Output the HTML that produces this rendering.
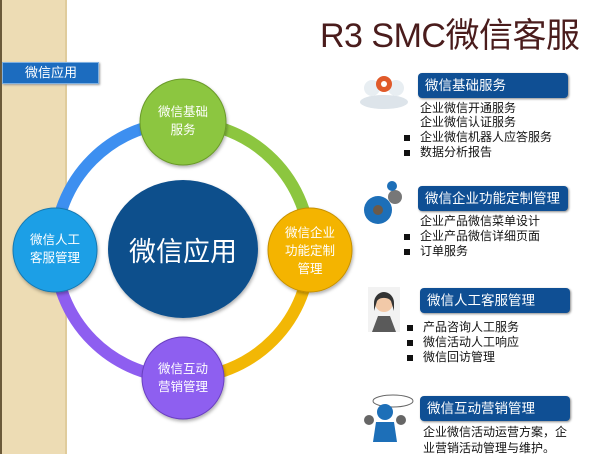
<!DOCTYPE html>
<html><head><meta charset="utf-8">
<style>
html,body{margin:0;padding:0;}
body{width:605px;height:454px;position:relative;overflow:hidden;background:#fff;font-family:"Liberation Sans","Noto Sans CJK SC",sans-serif;}
.strip{position:absolute;left:0;top:0;width:67px;height:454px;background:#eddcb4;border-left:2px solid #6b5a3a;box-sizing:border-box;border-right:2px solid #e0cc9c;}
.lab{position:absolute;left:2px;top:62px;width:97px;height:22px;background:#1c6cbf;border:1px solid #7fb0e0;box-sizing:border-box;color:#fff;font-size:13px;line-height:20px;padding-left:22px;box-shadow:1px 1px 2px #999;}
.title{position:absolute;left:320px;top:8px;font-size:34px;color:#4a1c1c;white-space:nowrap;letter-spacing:-0.5px;}
.hd{position:absolute;left:418px;width:150px;height:25px;background:#0f4f94;border-radius:4px;color:#fff;font-size:13.5px;line-height:25px;padding-left:7px;box-sizing:border-box;box-shadow:1px 1px 2px #888;}
.tx{position:absolute;font-size:12px;color:#111;white-space:nowrap;line-height:15px;}
.b{position:absolute;width:6px;height:6px;background:#111;}
</style></head><body>
<div class="strip"></div>
<div class="lab">微信应用</div>
<div class="title">R3 SMC微信客服</div>

<svg width="605" height="454" style="position:absolute;left:0;top:0">
<defs>
<filter id="sh" x="-20%" y="-20%" width="140%" height="140%"><feDropShadow dx="1" dy="2" stdDeviation="1.5" flood-color="#000" flood-opacity="0.3"/></filter>
</defs>
<g fill="none" stroke-width="12">
<path d="M183,122 A128,128 0 0 1 310,250" stroke="#8cc63f"/>
<path d="M310,250 A128,128 0 0 1 183,378" stroke="#f2b705"/>
<path d="M183,378 A128,128 0 0 1 55,250" stroke="#8e5ef0"/>
<path d="M55,250 A128,128 0 0 1 183,122" stroke="#3d8ff0"/>
</g>
<ellipse cx="183" cy="249" rx="75" ry="69" fill="#0f4f8c" filter="url(#sh)"/>
<circle cx="183" cy="122" r="43" fill="#8cc63f" stroke="#6a9a2a" filter="url(#sh)"/>
<circle cx="310" cy="250" r="42" fill="#f4b400" stroke="#c69000" filter="url(#sh)"/>
<circle cx="55" cy="250" r="42" fill="#1e9fe6" stroke="#1478b0" filter="url(#sh)"/>
<circle cx="183" cy="378" r="41" fill="#8e5ef0" stroke="#6a40c0" filter="url(#sh)"/>
<g font-family="Liberation Sans, Noto Sans CJK SC, sans-serif" fill="#fff" text-anchor="middle">
<text x="183" y="261" font-size="27">微信应用</text>
<text x="183" y="116" font-size="12.5">微信基础</text>
<text x="183" y="134" font-size="12.5">服务</text>
<text x="310" y="237" font-size="12.5">微信企业</text>
<text x="310" y="255" font-size="12.5">功能定制</text>
<text x="310" y="273" font-size="12.5">管理</text>
<text x="55" y="244" font-size="12.5">微信人工</text>
<text x="55" y="262" font-size="12.5">客服管理</text>
<text x="183" y="373" font-size="12.5">微信互动</text>
<text x="183" y="391" font-size="12.5">营销管理</text>
</g>
<!-- icons -->
<ellipse cx="384" cy="102" rx="24" ry="7" fill="#dde4ea"/>
<circle cx="372" cy="88" r="8" fill="#e8eef2"/><circle cx="396" cy="88" r="8" fill="#e8eef2"/>
<circle cx="384" cy="84" r="8" fill="#e05a2a"/><circle cx="384" cy="84" r="3" fill="#fff"/>
<circle cx="378" cy="210" r="14" fill="#1d6fb8"/><circle cx="378" cy="210" r="5" fill="#6b5a4a"/>
<circle cx="395" cy="197" r="7" fill="#777"/><circle cx="392" cy="186" r="5" fill="#1d6fb8"/>
<rect x="368" y="287" width="32" height="45" fill="#f2f2f2"/>
<circle cx="384" cy="303" r="9" fill="#f2c9a8"/><path d="M374,303 a10,11 0 0 1 20,0 l0,8 -3,-10 a8,6 0 0 0 -14,0 l-3,10z" fill="#333"/>
<path d="M372,332 l6,-16 12,0 6,16z" fill="#5a5a5a"/>
<ellipse cx="393" cy="401" rx="20" ry="6" fill="none" stroke="#666"/>
<circle cx="385" cy="412" r="8" fill="#1d6fb8"/><path d="M373,442 l3,-20 18,0 3,20z" fill="#1d6fb8"/>
<circle cx="369" cy="420" r="5" fill="#666"/><circle cx="401" cy="420" r="5" fill="#666"/>
</svg>

<div class="hd" style="top:73px">微信基础服务</div>
<div class="tx" style="left:420px;top:101px">企业微信开通服务</div>
<div class="tx" style="left:420px;top:115px">企业微信认证服务</div>
<div class="b" style="left:404px;top:135px"></div>
<div class="tx" style="left:420px;top:130px">企业微信机器人应答服务</div>
<div class="b" style="left:404px;top:150px"></div>
<div class="tx" style="left:420px;top:145px">数据分析报告</div>

<div class="hd" style="top:186px">微信企业功能定制管理</div>
<div class="tx" style="left:420px;top:214px">企业产品微信菜单设计</div>
<div class="b" style="left:404px;top:234px"></div>
<div class="tx" style="left:420px;top:229px">企业产品微信详细页面</div>
<div class="b" style="left:404px;top:249px"></div>
<div class="tx" style="left:420px;top:244px">订单服务</div>

<div class="hd" style="top:288px;left:420px">微信人工客服管理</div>
<div class="b" style="left:407px;top:325px"></div>
<div class="tx" style="left:423px;top:320px">产品咨询人工服务</div>
<div class="b" style="left:407px;top:340px"></div>
<div class="tx" style="left:423px;top:335px">微信活动人工响应</div>
<div class="b" style="left:407px;top:355px"></div>
<div class="tx" style="left:423px;top:350px">微信回访管理</div>

<div class="hd" style="top:396px;left:420px">微信互动营销管理</div>
<div class="tx" style="left:423px;top:425px">企业微信活动运营方案，企</div>
<div class="tx" style="left:423px;top:441px">业营销活动管理与维护。</div>
</body></html>
